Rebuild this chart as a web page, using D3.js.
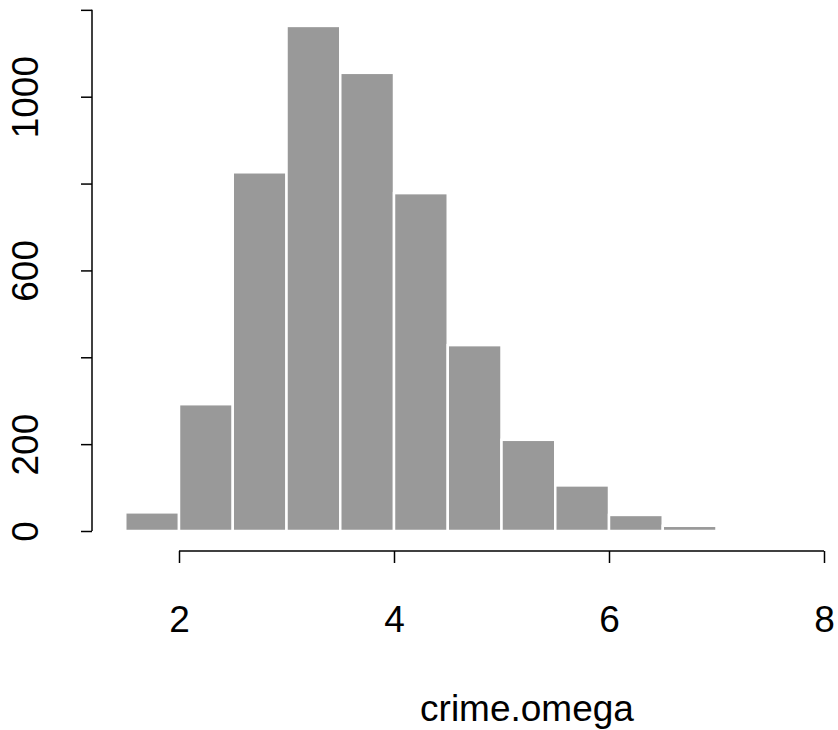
<!DOCTYPE html>
<html>
<head>
<meta charset="utf-8">
<script src="https://cdn.jsdelivr.net/npm/d3@7"></script>
<style>
  body { margin: 0; background: #fff; }
  text { font-family: "Liberation Sans", Arial, Helvetica, sans-serif; fill: #000; }
</style>
</head>
<body>
<svg id="chart" width="838" height="730"></svg>
<script>
// histogram of crime.omega, bin width 0.5
const binStarts = [1.5, 2.0, 2.5, 3.0, 3.5, 4.0, 4.5, 5.0, 5.5, 6.0, 6.5, 7.0, 7.5];
const counts    = [43, 292, 826, 1163, 1055, 778, 428, 210, 105, 37, 12, 0, 0];
const binWidth = 0.5;
const xTicks = [2, 4, 6, 8];
const yTicks = [0, 200, 400, 600, 800, 1000, 1200];
const yLabels = [0, 200, 600, 1000];
const xLabel = 'crime.omega';

const svg = d3.select('#chart');

const x_scale = d3.scaleLinear().domain([2, 8]).range([179, 824]);
const y_scale = d3.scaleLinear().domain([0, 1000]).range([531, 96.7]);

// bars
svg.append('g')
  .selectAll('rect')
  .data(binStarts)
  .join('rect')
  .attr('x', d => x_scale(d))
  .attr('width', d => x_scale(d + binWidth) - x_scale(d))
  .attr('y', (d, i) => y_scale(counts[i]))
  .attr('height', (d, i) => y_scale(0) - y_scale(counts[i]))
  .attr('fill', '#999999')
  .attr('stroke', '#ffffff')
  .attr('stroke-width', 2.5);

// x axis
const x_axis = d3.axisBottom(x_scale)
  .tickValues(xTicks)
  .tickSize(12)
  .tickFormat(d3.format('d'));
const gx = svg.append('g')
  .attr('transform', 'translate(0,551)')
  .call(x_axis);
gx.select('.domain').attr('d', 'M' + x_scale(2) + ',0H' + x_scale(8));
gx.selectAll('line, path').attr('stroke', '#000').attr('stroke-width', 1.5);
gx.selectAll('text')
  .style('font-size', '37px')
  .attr('y', 81)
  .attr('dy', 0);

// y axis
const y_axis = d3.axisLeft(y_scale)
  .tickValues(yTicks)
  .tickSize(11)
  .tickFormat(d => yLabels.includes(d) ? d : '');
const gy = svg.append('g')
  .attr('transform', 'translate(92,0)')
  .call(y_axis);
gy.select('.domain').attr('d', 'M0,' + y_scale(0) + 'V' + y_scale(1200));
gy.selectAll('line, path').attr('stroke', '#000').attr('stroke-width', 1.5);
gy.selectAll('text')
  .style('font-size', '37px')
  .attr('x', 0)
  .attr('dy', 0)
  .attr('text-anchor', 'middle')
  .attr('transform', 'translate(-54,0) rotate(-90)');

// axis title
svg.append('text')
  .attr('x', 527)
  .attr('y', 721)
  .attr('text-anchor', 'middle')
  .style('font-size', '37px')
  .text(xLabel);
</script>
</body>
</html>
